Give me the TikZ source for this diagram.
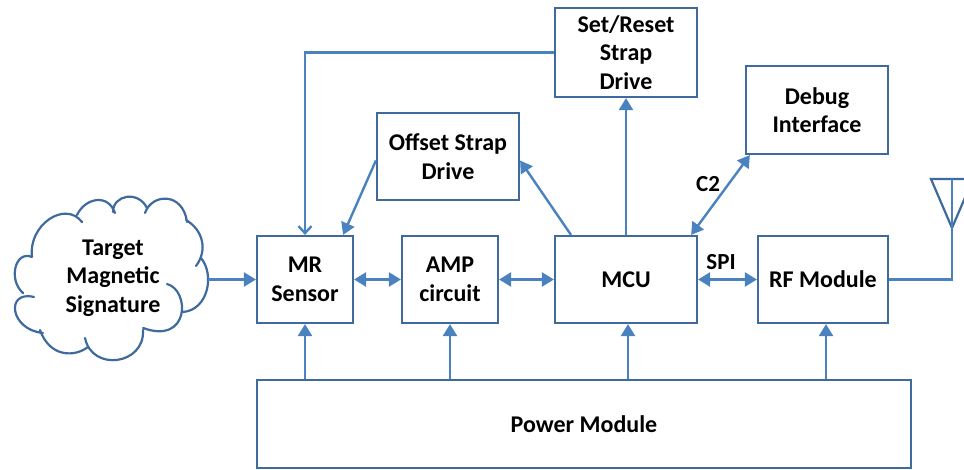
\documentclass[tikz,border=0pt]{standalone}
\usepackage{fontspec}
\setmainfont{Carlito}
\usepackage{tikz}
\usetikzlibrary{arrows.meta}
\definecolor{boxline}{HTML}{3F6A9E}
\definecolor{wireline}{HTML}{4A82C0}

\begin{document}
\begin{tikzpicture}[x=1pt,y=-1pt]
\tikzstyle{block}=[
  rectangle,
  draw=boxline,
  line width=2.2pt,
  align=center,
  inner sep=0pt,
  font=\fontsize{24}{28.5}\selectfont\bfseries ]
\tikzstyle{wire}=[draw=wireline,line width=2.4pt,-{Triangle[length=12pt,width=14pt]}]
\tikzstyle{biwire}=[wire,{Triangle[length=12pt,width=14pt]}-{Triangle[length=12pt,width=14pt]}]
\tikzstyle{tag}=[font=\fontsize{23}{24}\selectfont\bfseries,inner sep=0pt]
\clip (0,0) rectangle (964,470);
\node[block,minimum width=96pt,minimum height=87pt] (mr) at (305,279.5) {MR\\Sensor};
\node[block,minimum width=96pt,minimum height=87pt] (amp) at (450,279.5) {AMP\\circuit};
\node[block,minimum width=142pt,minimum height=87pt] (mcu) at (626,279.5) {MCU};
\node[block,minimum width=130pt,minimum height=87pt] (rf) at (823,279.5) {RF Module};
\node[block,minimum width=654pt,minimum height=88pt] (power) at (584,424) {Power Module};
\node[block,minimum width=142pt,minimum height=87pt] (offset) at (448,156.5) {Offset Strap\\Drive};
\node[block,minimum width=142pt,minimum height=89pt] (setreset) at (626,52.5) {Set/Reset\\Strap\\Drive};
\node[block,minimum width=142pt,minimum height=88pt] (debug) at (817,110) {Debug\\Interface};
\node[block,draw=none] (signature) at (113,278) {Target\\Magnetic\\Signature};
\node[tag] (spi) at (721,262) {SPI};
\node[tag] (c2) at (708,184) {C2};
\coordinate (cloudout) at (208,279.5);
% cloud outline, one puff at a time
\draw[draw=boxline,line width=2.2pt,line cap=round]
  (32,257) .. controls (28,225) and (65,200) .. (82,222)
  (77,215) .. controls (85,198) and (108,193) .. (115,213)
  (113,212) .. controls (113,195) and (138,190) .. (147,208)
  (145,213) .. controls (152,193) and (183,192) .. (187,222)
  (186,220) .. controls (203,230) and (208,250) .. (196,266)
  (201,258) .. controls (215,275) and (208,310) .. (183,312)
  (167,284) .. controls (190,290) and (190,345) .. (143,328)
  (143,330) .. controls (145,365) and (92,372) .. (85,338)
  (88,347) .. controls (75,357) and (50,358) .. (40,330)
  (43,333) .. controls (10,330) and (5,290) .. (34,297)
  (23,293) .. controls (8,280) and (15,250) .. (32,257);
% antenna
\coordinate (apex) at (952,228);
\draw[draw=boxline,line width=2.2pt] (931,179) -- (apex) -- (973,179) -- cycle;
\draw[draw=wireline,line width=2.4pt] (rf.east) -| (952,179);
% links
\draw[wire] (cloudout) -- (mr.west);
\draw[biwire] (mr) -- (amp);
\draw[biwire] (amp) -- (mcu);
\draw[biwire] (mcu) -- (rf);
\draw[draw=wireline,line width=2.4pt,-{Straight Barb[length=7pt,width=13pt]}] (setreset.west) -| (mr.north);
\draw[wire] ([yshift=-4pt]offset.west) -- ([xshift=-11pt]mr.north east);
\draw[wire] ([xshift=-55pt]mcu.north) -- ([yshift=-4pt]offset.east);
\draw[wire] (mcu.north) -- (setreset.south);
\draw[biwire] ([xshift=-7pt]mcu.north east) -- ([xshift=5pt]debug.south west);
\foreach \target/\nudge in {mr/0,amp/0,mcu/2,rf/3}
  \draw[wire] ([xshift=\nudge pt]power.north -| \target) -- ([xshift=\nudge pt]\target.south);
\end{tikzpicture}
\end{document}
